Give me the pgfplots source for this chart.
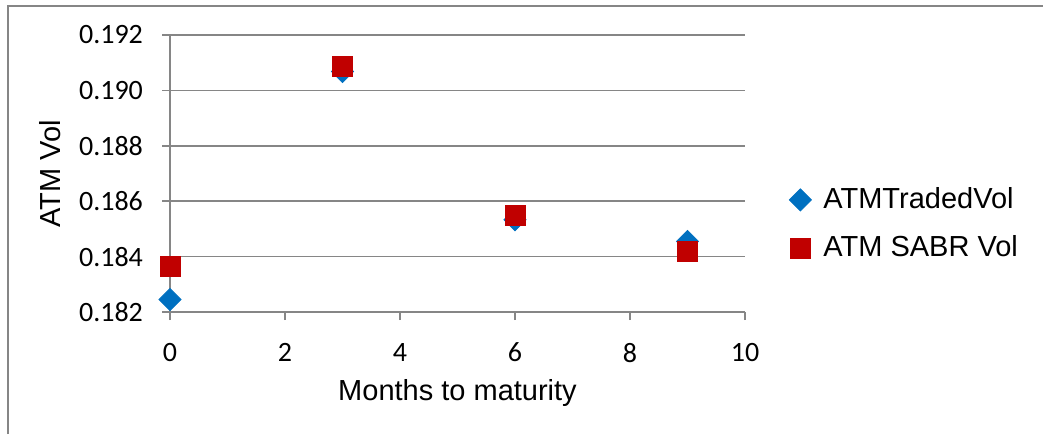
\documentclass[border=0pt]{standalone}
\usepackage{pgfplots}
\pgfplotsset{compat=1.18}
\usepackage{fontspec}
\setmainfont{Liberation Sans}
\newfontfamily\tickfont{Carlito}
\definecolor{tradedblue}{RGB}{0,112,192}
\definecolor{sabrred}{RGB}{192,0,0}
\definecolor{framegray}{RGB}{134,134,134}
\definecolor{gridgray}{RGB}{134,134,134}

\begin{document}
\begin{tikzpicture}[x=1pt,y=1pt]
% overall chart area
\useasboundingbox (0,0) rectangle (521.5,217);
\draw[framegray, line width=1pt] (4,0) -- (4,214) -- (521.5,214);
\begin{axis}[
  at={(85pt,61pt)}, anchor=south west,
  scale only axis,
  width=287.5pt, height=138.5pt,
  xmin=0, xmax=10, ymin=0.182, ymax=0.192,
  xtick={0,2,4,6,8,10},
  ytick={0.182,0.184,0.186,0.188,0.190,0.192},
  scaled y ticks=false,
  axis lines=left,
  axis line style={gridgray, line width=0.75pt, -},
  ymajorgrids,
  major grid style={gridgray, line width=0.75pt},
  tick align=outside,
  major tick length=4pt,
  tick style={gridgray, line width=0.75pt},
  ticklabel style={font=\tickfont\fontsize{14}{16}\selectfont, text=black},
  yticklabel style={xshift=-6pt, /pgf/number format/.cd, fixed, fixed zerofill, precision=3, assume math mode=true},
  xticklabel style={yshift=-8pt, /pgf/number format/assume math mode=true},
  xlabel={Months to maturity},
  ylabel={ATM Vol},
  label style={font=\fontsize{14.5}{17}\selectfont},
  xlabel style={at={(axis description cs:0.5,-0.292)}, anchor=center},
  ylabel style={at={(axis description cs:-0.209,0.5)}, anchor=center, rotate=0},
  legend style={draw=none, fill=none, at={(axis description cs:1.066,0.318)}, anchor=west,
    font=\fontsize{14.5}{17}\selectfont, row sep=8pt,
    legend cell align=left,
    /tikz/every odd column/.append style={column sep=4pt}},
  clip=false,
]
\addplot[only marks, mark=square*, mark size=3.9pt,
  mark options={rotate=45, fill=tradedblue, draw=tradedblue}]
  coordinates {(0,0.18245) (3,0.19068) (6,0.18533) (9,0.18455)};
\addlegendentry{ATMTradedVol}
\addplot[only marks, mark=square*, mark size=5pt,
  mark options={fill=sabrred, draw=sabrred}]
  coordinates {(0,0.18366) (3,0.19086) (6,0.18549) (9,0.18417)};
\addlegendentry{ATM SABR Vol}
\end{axis}
\end{tikzpicture}
\end{document}
